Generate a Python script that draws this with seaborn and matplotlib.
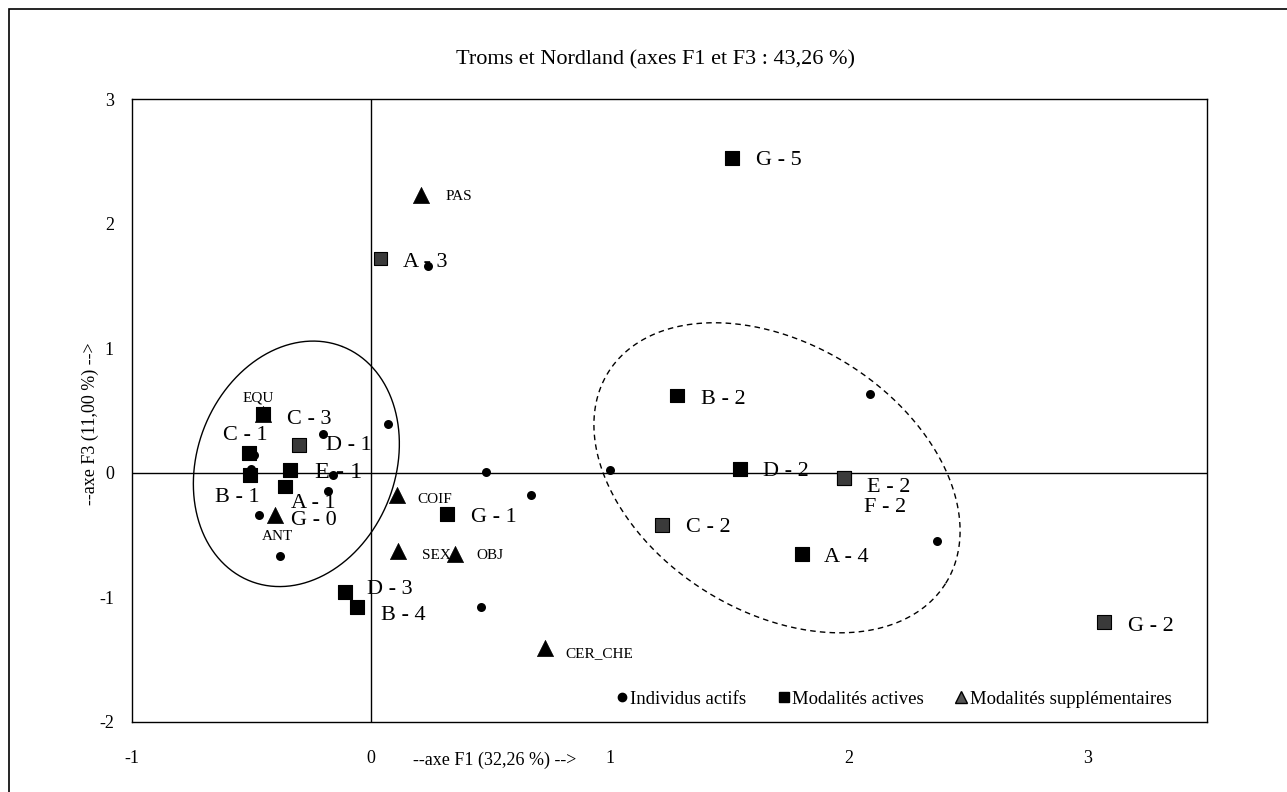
import numpy as np
import pandas as pd
import matplotlib
matplotlib.use("Agg")
import matplotlib.pyplot as plt
import seaborn as sns
from matplotlib.lines import Line2D
from matplotlib.patches import Rectangle

# Individus actifs (points)
indiv_f1 = [0.24, -0.20, -0.49, -0.50, -0.16, -0.18, -0.47, -0.38, 0.07,
            0.48, 0.67, 0.46, 1.00, 2.09, 2.37]
indiv_f3 = [1.66, 0.31, 0.14, 0.03, -0.02, -0.15, -0.34, -0.67, 0.39,
            0.01, -0.18, -1.08, 0.02, 0.63, -0.55]

# Modalites actives (carres)
mod_labels = ["A - 3", "G - 5", "C - 3", "C - 1", "D - 1", "E - 1", "B - 1",
              "A - 1", "G - 1", "D - 3", "B - 4", "B - 2", "D - 2", "E - 2",
              "F - 2", "C - 2", "A - 4", "G - 2"]
mod_f1 = [0.04, 1.51, -0.45, -0.51, -0.30, -0.34, -0.505, -0.36, 0.32,
          -0.11, -0.06, 1.28, 1.545, 1.98, 1.98, 1.22, 1.805, 3.07]
mod_f3 = [1.72, 2.53, 0.47, 0.16, 0.22, 0.02, -0.02, -0.11, -0.33, -0.96,
          -1.08, 0.62, 0.03, -0.04, -0.04, -0.42, -0.65, -1.20]

# Modalites supplementaires (triangles)
sup_labels = ["PAS", "EQU", "ANT", "COIF", "SEX", "OBJ", "CER_CHE"]
sup_f1 = [0.21, -0.45, -0.40, 0.11, 0.115, 0.35, 0.73]
sup_f3 = [2.23, 0.47, -0.34, -0.18, -0.63, -0.65, -1.41]

x_ticks = [-1, 0, 1, 2, 3]
y_ticks = [-2, -1, 0, 1, 2, 3]

title = "Troms et Nordland (axes F1 et F3 : 43,26 %)"
xlabel = "--axe F1 (32,26 %) -->"
ylabel = "--axe F3 (11,00 %) -->"
legend_labels = ["Individus actifs", "Modalités actives", "Modalités supplémentaires"]


def draw_ellipse(ax, cx, cy, a_px, b_px, angle_deg, **kw):
    # ellipse drawn in pixel space so that it looks like the original sketch
    t = np.linspace(0, 2 * np.pi, 400)
    phi = np.deg2rad(angle_deg)
    x0, y0 = ax.transData.transform((cx, cy))
    xs = x0 + a_px * np.cos(t) * np.cos(phi) - b_px * np.sin(t) * np.sin(phi)
    ys = y0 + a_px * np.cos(t) * np.sin(phi) + b_px * np.sin(t) * np.cos(phi)
    pts = ax.transData.inverted().transform(np.column_stack([xs, ys]))
    ax.plot(pts[:, 0], pts[:, 1], **kw)


def make_plot():
    sns.set_theme(style="white")
    plt.rcParams['font.family'] = ['Liberation Serif', 'DejaVu Serif']
    plt.rcParams['text.color'] = 'black'
    plt.rcParams['axes.labelcolor'] = 'black'

    W, H = 1287, 792
    fig = plt.figure(figsize=(W / 100, H / 100), dpi=100)
    ax = fig.add_axes([132 / W, 1 - 722 / H, (1207 - 132) / W, (722 - 99) / H])
    ax.set_xlim(-1, 3.5)
    ax.set_ylim(-2, 3)

    ax.axhline(0, color='black', lw=1, zorder=1)
    ax.axvline(0, color='black', lw=1, zorder=1)

    # ellipses (groupes)
    draw_ellipse(ax, -0.312, 0.072, 126, 99, 68.6, color='black', lw=1, zorder=2)
    draw_ellipse(ax, 1.70, -0.04, 199, 134, -32, color='black', lw=1,
                 ls=(0, (4, 3)), zorder=2)

    df_ind = pd.DataFrame({'f1': indiv_f1, 'f3': indiv_f3})
    df_mod = pd.DataFrame({'label': mod_labels, 'f1': mod_f1, 'f3': mod_f3})
    df_sup = pd.DataFrame({'label': sup_labels, 'f1': sup_f1, 'f3': sup_f3})

    grey = {"A - 3", "D - 1", "E - 2", "F - 2", "C - 2", "G - 2"}
    df_mod['teinte'] = np.where(df_mod['label'].isin(grey), 'gris', 'noir')

    sns.scatterplot(data=df_sup, x='f1', y='f3', marker='^', s=135, color='black',
                    edgecolor='black', linewidth=0.5, ax=ax, zorder=3, legend=False)
    sns.scatterplot(data=df_mod, x='f1', y='f3', hue='teinte', marker='s', s=100,
                    palette={'noir': 'black', 'gris': '#3a3a3a'}, edgecolor='black',
                    linewidth=0.8, ax=ax, zorder=4, legend=False)
    sns.scatterplot(data=df_ind, x='f1', y='f3', marker='o', s=42, color='black',
                    edgecolor='black', linewidth=0, ax=ax, zorder=5, legend=False)

    # label offsets in pixels (dx right, dy down)
    mod_off = {"A - 3": (23, 4), "G - 5": (24, 3), "C - 3": (24, 5), "C - 1": (-26, -17),
               "D - 1": (27, 0), "E - 1": (25, 2), "B - 1": (-35, 22), "A - 1": (6, 17),
               "G - 1": (24, 4), "D - 3": (22, -3), "B - 4": (24, 8), "B - 2": (24, 4),
               "D - 2": (23, 2), "E - 2": (23, 10), "F - 2": (20, 30), "C - 2": (24, 2),
               "A - 4": (22, 4), "G - 2": (24, 4)}
    sup_off = {"PAS": (24, 2), "EQU": (-21, -16), "ANT": (-13, 21), "COIF": (20, 4),
               "SEX": (24, 4), "OBJ": (22, 2), "CER_CHE": (20, 5)}

    for _, r in df_mod.iterrows():
        dx, dy = mod_off[r['label']]
        fs = 17.5 if r['label'] == "E - 1" else 16
        ax.annotate(r['label'], (r['f1'], r['f3']), xytext=(dx, -dy),
                    textcoords='offset pixels', ha='left', va='center',
                    fontsize=fs, color='black', zorder=6)
    for _, r in df_sup.iterrows():
        dx, dy = sup_off[r['label']]
        ax.annotate(r['label'], (r['f1'], r['f3']), xytext=(dx, -dy),
                    textcoords='offset pixels', ha='left', va='center',
                    fontsize=11, color='black', zorder=6)
    # G - 0 sits next to the ANT triangle
    ant = df_sup[df_sup['label'] == "ANT"].iloc[0]
    ax.annotate("G - 0", (ant['f1'], ant['f3']), xytext=(16, -5),
                textcoords='offset pixels', ha='left', va='center',
                fontsize=16, color='black')

    ax.set_xticks(x_ticks)
    ax.set_yticks(y_ticks)
    ax.set_xticklabels([str(v) for v in x_ticks])
    ax.set_yticklabels([str(v) for v in y_ticks])
    ax.tick_params(axis='x', length=0, pad=20, labelsize=13, colors='black')
    ax.tick_params(axis='y', length=0, pad=13, labelsize=13, colors='black')
    for s in ax.spines.values():
        s.set_color('black')
        s.set_linewidth(1)

    ax.set_xlabel(xlabel, fontsize=13, color='black', va='center')
    ax.xaxis.set_label_coords((495 - 132) / 1075, -(760 - 722) / 623)
    ax.set_ylabel(ylabel, fontsize=13, color='black', va='center')
    ax.yaxis.set_label_coords((90 - 132) / 1075, (722 - 424) / 623)

    fig.text(655 / W, 1 - 60 / H, title, ha='center', va='center',
             fontsize=16, color='black')

    handles = [
        Line2D([], [], marker='o', ls='', color='black', markersize=6),
        Line2D([], [], marker='s', ls='', color='black', markersize=7),
        Line2D([], [], marker='^', ls='', markerfacecolor='#555555',
               markeredgecolor='black', markersize=8),
    ]
    ax.legend(handles, legend_labels, ncol=3, loc='center right',
              bbox_to_anchor=(0.967, 0.037), frameon=False, fontsize=13.5,
              handlelength=0.6, handletextpad=0.15, columnspacing=1.7,
              borderpad=0, borderaxespad=0)

    # cadre exterieur
    fig.add_artist(Rectangle((9 / W, -0.05), 1.1, 1 - 9 / H + 0.05,
                             transform=fig.transFigure, fill=False,
                             lw=1.2, ec='black'))

    fig.savefig('out.png', dpi=100)
    plt.close(fig)


if __name__ == "__main__":
    make_plot()
